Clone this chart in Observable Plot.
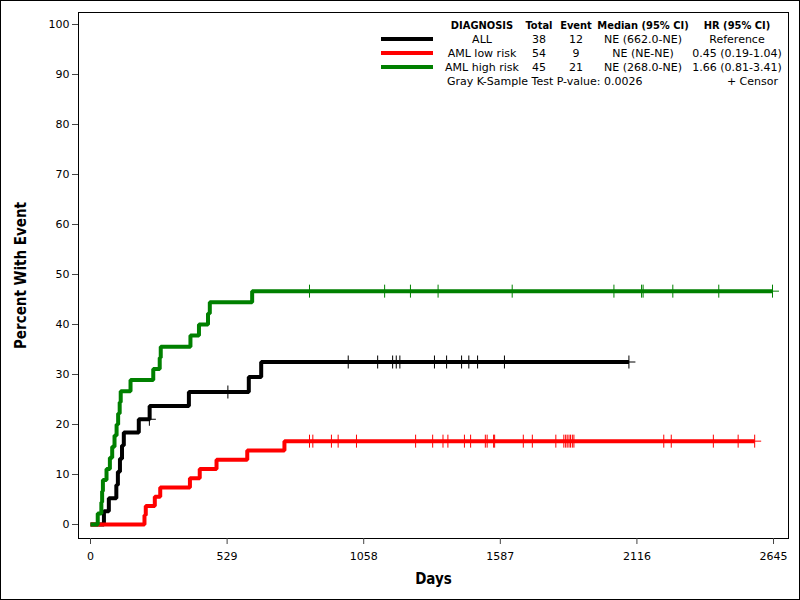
<!DOCTYPE html>
<html><head><meta charset="utf-8">
<script src="https://cdn.jsdelivr.net/npm/d3@7"></script>
<script src="https://cdn.jsdelivr.net/npm/@observablehq/plot@0.6"></script>
<style>
body{margin:0;background:#fff}
#wrap{position:relative;width:800px;height:600px;overflow:hidden;font-family:"DejaVu Sans",sans-serif;color:#000}
#border{position:absolute;left:0;top:0;width:800px;height:600px;box-sizing:border-box;border:1px solid #000;pointer-events:none}
.lg,.lgL,.lgR{position:absolute;font-size:11px;white-space:nowrap;line-height:1}
.lg{transform:translate(-50%,-50%)}
.lgL{transform:translate(0,-50%)}
.lgR{transform:translate(-100%,-50%)}
.hd{font-family:"DejaVu Sans Condensed","DejaVu Sans",sans-serif;font-weight:bold}
.sw{position:absolute;height:4px;transform:translate(0,-50%)}
</style></head><body><div id="wrap"></div>
<script>
// ---- data ----
const groups = ["ALL", "AML low risk", "AML high risk"];
const colors = ["#000000", "#ff0000", "#008000"];
const totals = [38, 54, 45];
const events = [12, 9, 21];
const medians = ["NE (662.0-NE)", "NE (NE-NE)", "NE (268.0-NE)"];
const hrs = ["Reference", "0.45 (0.19-1.04)", "1.66 (0.81-3.41)"];
const headers = ["DIAGNOSIS", "Total", "Event", "Median (95% CI)", "HR (95% CI)"];
const pValueText = "Gray K-Sample Test P-value: 0.0026";
const censorText = "+  Censor";
const xTicks = [0, 529, 1058, 1587, 2116, 2645];
const yTicks = [0, 10, 20, 30, 40, 50, 60, 70, 80, 90, 100];
const xLabel = "Days";
const yLabel = "Percent With Event";

// ALL
const allDays = [0, 52, 71, 100, 106, 114, 122, 129, 187, 229, 381, 613, 661];
const allPct  = [0, 2.63, 5.26, 7.89, 10.53, 13.16, 15.79, 18.42, 21.05, 23.68, 26.5, 29.5, 32.5];
const allCensor = [228, 532, 998, 1112, 1170, 1184, 1198, 1332, 1379, 1437, 1465, 1499, 1603, 2085];
// AML low risk
const lowDays = [0, 209, 214, 249, 270, 385, 423, 488, 607, 751];
const lowPct  = [0, 1.85, 3.7, 5.56, 7.41, 9.26, 11.11, 12.96, 14.81, 16.67];
const lowCensor = [848, 861, 933, 959, 1030, 1259, 1325, 1365, 1384, 1448, 1472, 1529, 1536, 1561, 1565,
  1676, 1711, 1802, 1833, 1840, 1846, 1853, 1859, 1866, 1872, 2220, 2249, 2412, 2508, 2572];
// AML high risk
const highDays = [0, 28, 42, 45, 48, 62, 75, 84, 93, 101, 107, 113, 117, 155, 243, 268, 272, 387, 420, 455, 462, 626];
const highPct  = [0, 2.22, 4.44, 6.67, 8.89, 11.11, 13.33, 15.56, 17.78, 20, 22.22, 24.44, 26.67, 28.89, 31.11, 33.33, 35.56, 37.78, 40, 42.22, 44.44, 46.67];
const highCensor = [848, 1139, 1239, 1346, 1633, 2027, 2134, 2140, 2255, 2433, 2641];

// ---- build ----
function series(days, pct, censor) {
  const pts = days.map((d, i) => ({day: d, pct: pct[i]}));
  const last = d3.max(censor);
  pts.push({day: last, pct: pct[pct.length - 1]});
  const cens = censor.map(c => ({day: c, pct: pct[d3.bisectRight(days, c) - 1]}));
  return {pts, cens};
}
const S = [series(allDays, allPct, allCensor), series(lowDays, lowPct, lowCensor), series(highDays, highPct, highCensor)];

const plusSymbol = {
  draw(ctx, size) {
    const r = Math.sqrt(size / Math.PI);
    ctx.moveTo(-r, 0); ctx.lineTo(r, 0);
    ctx.moveTo(0, -r); ctx.lineTo(0, r);
  }
};

const font = '"DejaVu Sans",sans-serif';
const labelFont = '"DejaVu Sans Condensed","DejaVu Sans",sans-serif';
const marks = [
  Plot.frame({stroke: "#000"}),
  Plot.axisY({ticks: yTicks, tickSize: 6, tickPadding: 3, label: null, stroke: "#444", fontSize: 11, tickFormat: d => String(d)}),
  Plot.axisX({ticks: xTicks, tickSize: 6, tickPadding: 8, label: null, stroke: "#444", fontSize: 11, tickFormat: d => String(d)}),
  Plot.text([yLabel], {frameAnchor: "left", text: d => d, rotate: -90, dx: -57, textAnchor: "middle", lineAnchor: "middle", fontWeight: "bold", fontSize: 15, fontFamily: labelFont}),
  Plot.text([xLabel], {frameAnchor: "bottom", text: d => d, dy: 41, textAnchor: "middle", lineAnchor: "middle", fontWeight: "bold", fontSize: 15, fontFamily: labelFont})
];
S.forEach((s, i) => {
  marks.push(Plot.line(s.pts, {x: "day", y: "pct", curve: "step-after", stroke: colors[i], strokeWidth: 4, strokeLinejoin: "miter", strokeLinecap: "butt"}));
});
S.forEach((s, i) => {
  marks.push(Plot.dot(s.cens, {x: "day", y: "pct", symbol: plusSymbol, r: 6.5, stroke: colors[i], fill: "none", strokeWidth: 1}));
});

const chart = Plot.plot({
  width: 800, height: 600,
  marginLeft: 78, marginRight: 12, marginTop: 12, marginBottom: 62,
  x: {domain: [-46.5, 2703]},
  y: {domain: [-2.8, 102.4]},
  style: {fontFamily: font, fontSize: "11px", background: "white", color: "#000"},
  marks
});
const wrap = document.getElementById("wrap");
wrap.appendChild(chart);

// ---- legend (overlay) ----
function add(cls, x, y, txt) {
  const el = document.createElement("div");
  el.className = cls;
  el.style.left = x + "px"; el.style.top = y + "px";
  el.textContent = txt;
  wrap.appendChild(el);
  return el;
}
const colX = [482, 539, 576, 643, 737];
const rowY = [25, 39, 53, 67, 81];
headers.forEach((h, j) => add("lg hd", colX[j], rowY[0], h));
groups.forEach((g, i) => {
  const y = rowY[i + 1];
  const sw = document.createElement("div");
  sw.className = "sw"; sw.style.left = "381px"; sw.style.top = y + "px"; sw.style.width = "52px"; sw.style.background = colors[i];
  wrap.appendChild(sw);
  [g, String(totals[i]), String(events[i]), medians[i], hrs[i]].forEach((t, j) => add("lg", colX[j], y, t));
});
add("lgL", 447, rowY[4], pValueText);
add("lgR", 778, rowY[4], censorText);
const border = document.createElement("div"); border.id = "border"; wrap.appendChild(border);
</script></body></html>
